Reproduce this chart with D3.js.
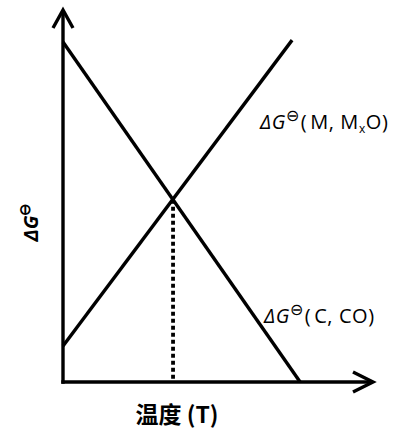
<!DOCTYPE html>
<html><head><meta charset="utf-8">
<script src="https://cdn.jsdelivr.net/npm/d3@7"></script>
<style>html,body{margin:0;padding:0;background:#fff;}svg{display:block;}</style>
</head><body>
<svg id="c" width="400" height="432"></svg>
<script>
// data (arbitrary units on 0..100 axes)
const seriesNames = ["M, MxO", "C, CO"];
const lineMMxO = [{x: 0, y: 9.7}, {x: 73.9, y: 91.9}];
const lineCCO = [{x: 0, y: 91.4}, {x: 76.5, y: 0}];
const crossing = {x: 35.5, y: 49.5};
const xTitle = "温度 (T)";

const svg = d3.select("#c");
const x = d3.scaleLinear().domain([0, 100]).range([63, 373]);
const y = d3.scaleLinear().domain([0, 100]).range([382, 10]);
const line = d3.line().x(d => x(d.x)).y(d => y(d.y));
const SW = 3.4;

// axes
svg.append("line").attr("x1", x(0)).attr("x2", x(0)).attr("y1", y(0) + 1.7).attr("y2", y(100) + 1)
  .attr("stroke", "#000").attr("stroke-width", SW);
svg.append("line").attr("x1", x(0) - 1.7).attr("x2", x(100) - 1).attr("y1", y(0)).attr("y2", y(0))
  .attr("stroke", "#000").attr("stroke-width", SW);
// arrowheads
svg.append("path").attr("d", `M${x(0) - 10},${y(100) + 18} L${x(0)},${y(100)} L${x(0) + 10},${y(100) + 18}`)
  .attr("fill", "none").attr("stroke", "#000").attr("stroke-width", SW);
svg.append("path").attr("d", `M${x(100) - 20},${y(0) - 10} L${x(100)},${y(0)} L${x(100) - 20},${y(0) + 10}`)
  .attr("fill", "none").attr("stroke", "#000").attr("stroke-width", SW);

// lines
[lineMMxO, lineCCO].forEach(d => {
  svg.append("path").datum(d).attr("d", line).attr("fill", "none")
    .attr("stroke", "#000").attr("stroke-width", SW);
});

// dotted drop line
svg.append("line").attr("x1", x(crossing.x)).attr("x2", x(crossing.x))
  .attr("y1", y(crossing.y) + 2).attr("y2", y(0))
  .attr("stroke", "#000").attr("stroke-width", 3.8).attr("stroke-dasharray", "4,3");

const font = "'Open Sans', 'Noto Sans', sans-serif";
// labels
const t1 = svg.append("text").attr("x", 260).attr("y", 129).attr("font-family", font)
  .attr("font-size", 20).attr("letter-spacing", 0.6);
t1.append("tspan").attr("font-style", "italic").text("ΔG");
t1.append("tspan").attr("dy", -8).attr("font-size", 16).text("⊖");
t1.append("tspan").attr("dy", 8).attr("dx", 1).text("(");
t1.append("tspan").attr("dx", 3).text("M, M");
t1.append("tspan").attr("dy", 4).attr("font-size", 12).text("x");
t1.append("tspan").attr("dy", -4).text("O)");

const t2 = svg.append("text").attr("x", 264).attr("y", 323).attr("font-family", font)
  .attr("font-size", 20).attr("letter-spacing", 0.6);
t2.append("tspan").attr("font-style", "italic").text("ΔG");
t2.append("tspan").attr("dy", -8).attr("font-size", 16).text("⊖");
t2.append("tspan").attr("dy", 8).attr("dx", 1).text("(");
t2.append("tspan").attr("dx", 3).text("C, CO)");

// y title
const yt = svg.append("text").attr("transform", "translate(38,222) rotate(-90)")
  .attr("text-anchor", "middle").attr("font-family", font).attr("font-size", 20).attr("font-weight", "bold");
yt.append("tspan").attr("font-style", "italic").text("ΔG");
yt.append("tspan").attr("dy", -8).attr("font-size", 15).text("⊖");

// x title
svg.append("text").attr("x", 177).attr("y", 423).attr("text-anchor", "middle")
  .attr("font-family", "'Noto Sans CJK SC', sans-serif").attr("font-size", 23).attr("font-weight", "bold")
  .text(xTitle);
</script>
</body></html>
